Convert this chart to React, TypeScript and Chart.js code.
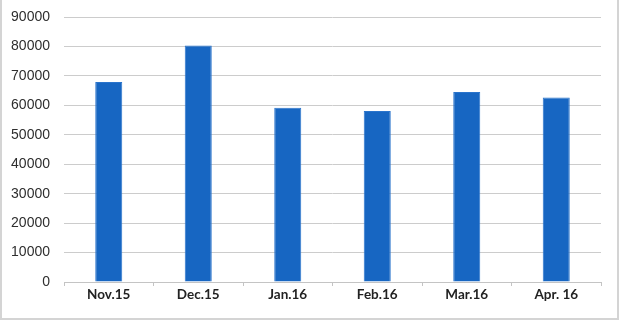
import React, { useEffect, useRef } from "react";
import { Chart, registerables } from "chart.js";

Chart.register(...registerables);

const categories = ["Nov.15", "Dec.15", "Jan.16", "Feb.16", "Mar.16", "Apr. 16"];
const values = [67900, 80300, 59200, 58100, 64500, 62700];
const yMin = 0;
const yMax = 90000;
const yStep = 10000;

export default function App() {
  const ref = useRef<HTMLCanvasElement | null>(null);
  useEffect(() => {
    document.body.style.margin = "0";
    const ctx = ref.current!;
    const chart = new Chart(ctx, {
      type: "bar",
      data: {
        labels: categories,
        datasets: [
          {
            data: values,
            backgroundColor: "#1766c2",
            borderColor: "#2a74cc",
            borderWidth: 1,
            barPercentage: 1,
            categoryPercentage: 0.302,
          },
        ],
      },
      options: {
        animation: false,
        responsive: false,
        maintainAspectRatio: false,
        layout: { padding: { left: 0, right: 19, top: 17, bottom: 0 } },
        plugins: { legend: { display: false }, tooltip: { enabled: false } },
        scales: {
          x: {
            offset: true,
            grid: {
              display: true,
              drawOnChartArea: false,
              drawTicks: true,
              tickLength: 4,
              offset: true,
              color: "#c4c4c4",
            },
            border: { display: true, color: "#c4c4c4", width: 1 },
            ticks: {
              padding: 1,
              color: "#222222",
              font: { family: "Lato", size: 13.5, weight: "bold" },
              maxRotation: 0,
            },
            afterFit: (scale: any) => {
              scale.height = 40;
            },
          },
          y: {
            min: yMin,
            max: yMax,
            ticks: {
              stepSize: yStep,
              padding: 14,
              color: "#2e2e2e",
              font: { family: "Liberation Sans", size: 14 },
              callback: (v: any) => String(v),
            },
            grid: { color: "#cccccc", lineWidth: 1, drawTicks: false },
            border: { display: false },
            afterFit: (scale: any) => {
              scale.width = 64;
              scale.paddingTop = 8;
              scale.paddingBottom = 8;
            },
          },
        },
      },
    });
    return () => chart.destroy();
  }, []);
  return (
    <div style={{ position: "absolute", left: 0, top: 0, width: 620, height: 322, background: "#fff" }}>
      <canvas ref={ref} width={620} height={322} style={{ position: "absolute", left: 0, top: 0 }} />
      <div
        style={{
          position: "absolute",
          left: 0,
          top: 0,
          width: 619,
          height: 320,
          boxSizing: "border-box",
          borderLeft: "2px solid #d4d4d4",
          borderRight: "2px solid #d4d4d4",
          borderBottom: "2px solid #d4d4d4",
          pointerEvents: "none",
        }}
      />
    </div>
  );
}
